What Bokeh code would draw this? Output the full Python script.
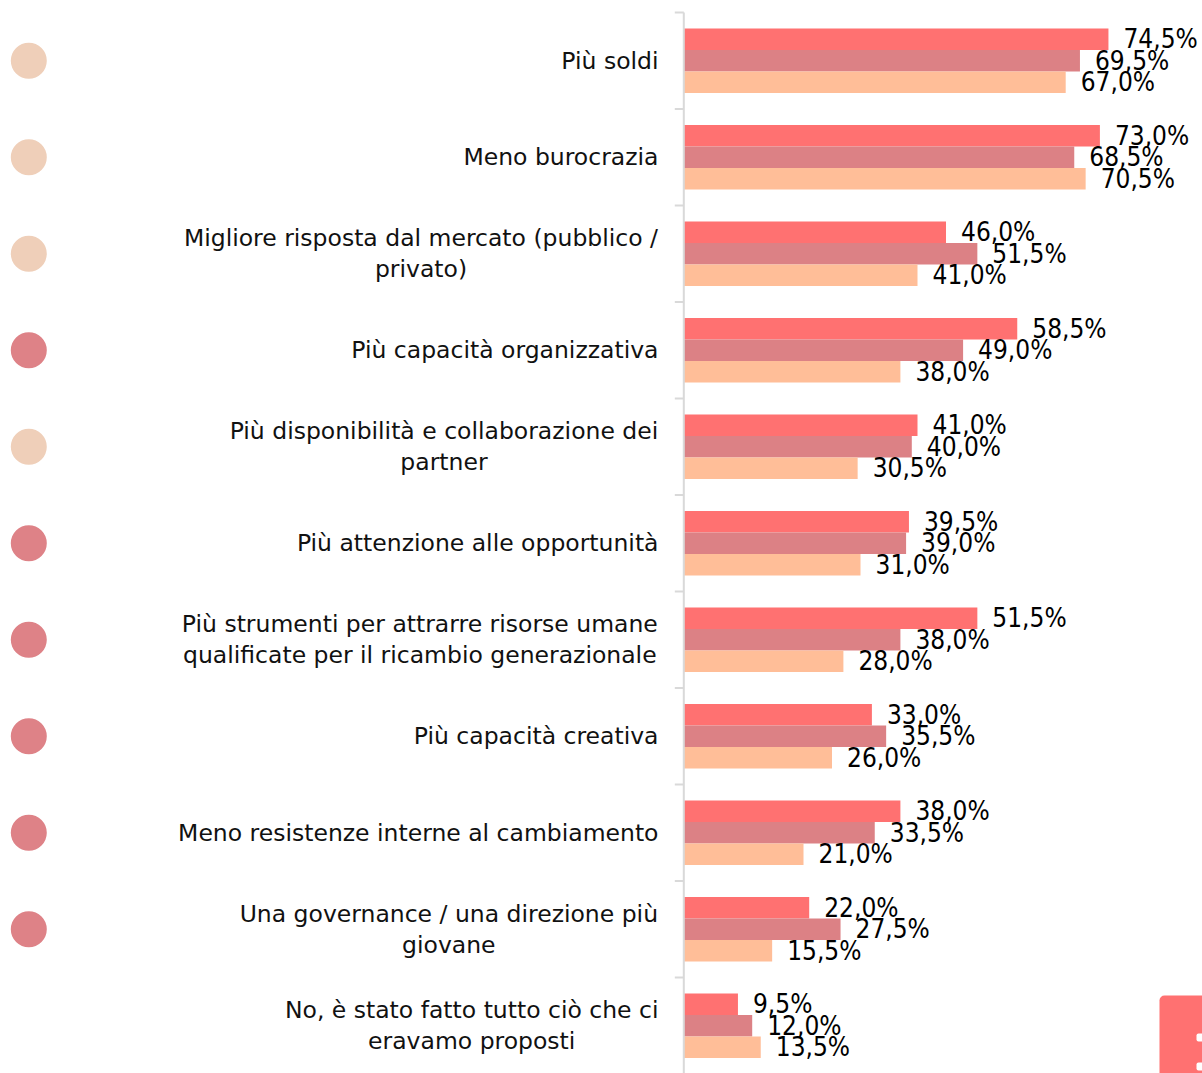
from bokeh.plotting import figure
from bokeh.models import Range1d, ColumnDataSource
from bokeh.embed import file_html
from bokeh.resources import INLINE
from bokeh.core.properties import value

# ---------------- data ----------------
categories = [
    "Più soldi",
    "Meno burocrazia",
    "Migliore risposta dal mercato (pubblico /\nprivato)",
    "Più capacità organizzativa",
    "Più disponibilità e collaborazione dei\npartner",
    "Più attenzione alle opportunità",
    "Più strumenti per attrarre risorse umane\nqualificate per il ricambio generazionale",
    "Più capacità creativa",
    "Meno resistenze interne al cambiamento",
    "Una governance / una direzione più\ngiovane",
    "No, è stato fatto tutto ciò che ci\neravamo proposti",
]
serie_1 = [74.5, 73.0, 46.0, 58.5, 41.0, 39.5, 51.5, 33.0, 38.0, 22.0, 9.5]
serie_2 = [69.5, 68.5, 51.5, 49.0, 40.0, 39.0, 38.0, 35.5, 33.5, 27.5, 12.0]
serie_3 = [67.0, 70.5, 41.0, 38.0, 30.5, 31.0, 28.0, 26.0, 21.0, 15.5, 13.5]
marker_group = ["chiaro", "chiaro", "chiaro", "scuro", "chiaro", "scuro",
                "scuro", "scuro", "scuro", "scuro", None]

# ---------------- styling ----------------
COL_1 = "#FF7171"
COL_2 = "#DC8185"
COL_3 = "#FFBE98"
MARK_COLS = {"chiaro": "#EFCFB9", "scuro": "#DE8287"}
AXIS_COL = "#D9D9D9"
CAT_FONT = "DejaVu Sans"
CAT_SIZE = 23.5
VAL_FONT = "DejaVu Sans Condensed"
VAL_SIZE = 26

W, H = 1202, 1073
PAGE = 0
X0 = 683.3          # screen x of value 0
PPX = 5.70          # px per percent
Y_TOP = 12.0        # screen y of first category boundary
BAND = 96.5         # px per category
N = len(categories)

def dx(sx):
    return (sx - X0) / PPX

def dy(sy):
    return N - (sy - Y_TOP) / BAND

p = figure(width=W, height=H,
           x_range=Range1d(dx(PAGE), dx(PAGE + W)),
           y_range=Range1d(dy(PAGE + H), dy(PAGE)),
           x_axis_type=None, y_axis_type=None,
           output_backend="svg", toolbar_location=None,
           min_border=0, min_border_left=0, min_border_right=0,
           min_border_top=0, min_border_bottom=0)
p.grid.visible = False
p.outline_line_color = None
p.background_fill_color = "white"
p.border_fill_color = "white"

centers = [N - 0.5 - i for i in range(N)]
bh = 21.5 / BAND

# bars
for vals, col, off in ((serie_1, COL_1, bh), (serie_2, COL_2, 0.0), (serie_3, COL_3, -bh)):
    ys = [c + off for c in centers]
    src = ColumnDataSource(dict(y=ys, right=vals,
                                lab=[f"{v:.1f}".replace(".", ",") + "%" for v in vals]))
    p.hbar(y="y", left=0, right="right", height=bh, source=src,
           fill_color=col, line_color=None)
    p.text(x="right", y="y", text="lab", source=src, x_offset=15,
           text_align="left", text_baseline="middle",
           text_font=value(VAL_FONT), text_font_size=f"{VAL_SIZE}px",
           text_color="#000000")

# axis line with boundary ticks
p.segment(x0=[0], y0=[-1], x1=[0], y1=[N], line_color=AXIS_COL, line_width=2)
bounds = list(range(1, N + 1))
p.segment(x0=[dx(X0 - 9)] * len(bounds), y0=bounds, x1=[0] * len(bounds), y1=bounds,
          line_color=AXIS_COL, line_width=2)

# category labels (DejaVu Sans advance widths, units/2048)
WID = {' ': 651, '(': 799, ')': 799, '/': 690, ',': 651, 'M': 1767, 'N': 1532,
       'P': 1235, 'U': 1499, 'a': 1255, 'b': 1300, 'c': 1126, 'd': 1300, 'e': 1260,
       'f': 721, 'g': 1300, 'h': 1298, 'i': 569, 'l': 569, 'm': 1995, 'n': 1298,
       'o': 1253, 'p': 1300, 'q': 1300, 'r': 842, 's': 1067, 't': 803, 'u': 1298,
       'v': 1212, 'z': 1075, 'à': 1255, 'ù': 1298, 'è': 1260, 'ò': 1253}

def text_w(s):
    return sum(WID.get(ch, 1200) for ch in s) / 2048 * CAT_SIZE

RIGHT_EDGE = 658
LINE_H = 31
lx, ly, lt, la = [], [], [], []
for c, lab in zip(centers, categories):
    lines = lab.split("\n")
    if len(lines) == 1:
        lx.append(dx(RIGHT_EDGE)); ly.append(c); lt.append(lab); la.append("right")
    else:
        w = max(text_w(s) for s in lines)
        cx = dx(RIGHT_EDGE - w / 2)
        n = len(lines)
        for k, s in enumerate(lines):
            off = ((n - 1) / 2 - k) * LINE_H / BAND
            lx.append(cx); ly.append(c + off); lt.append(s); la.append("center")
p.text(x="x", y="y", text="t", text_align="a",
       source=ColumnDataSource(dict(x=lx, y=ly, t=lt, a=la)),
       text_baseline="middle", text_font=value(CAT_FONT),
       text_font_size=f"{CAT_SIZE}px", text_color="#111111")

# side markers
mx, my, mc = [], [], []
for c, g in zip(centers, marker_group):
    if g is not None:
        mx.append(dx(28.3)); my.append(c); mc.append(MARK_COLS[g])
p.scatter(x="x", y="y", color="c", size=36, line_color=None,
          source=ColumnDataSource(dict(x=mx, y=my, c=mc)))

# partial logo block, bottom-right
p.quad(left=[dx(1159)], right=[dx(1260)], top=[dy(995)], bottom=[dy(1140)],
       fill_color=COL_1, line_color=None, border_radius=5)
p.quad(left=[dx(1196)], right=[dx(1215)], top=[dy(1033)], bottom=[dy(1041)],
       fill_color="white", line_color=None, border_radius=2)
p.quad(left=[dx(1196)], right=[dx(1215)], top=[dy(1062)], bottom=[dy(1070)],
       fill_color="white", line_color=None, border_radius=2)

open("out.html", "w").write(file_html(p, INLINE))
